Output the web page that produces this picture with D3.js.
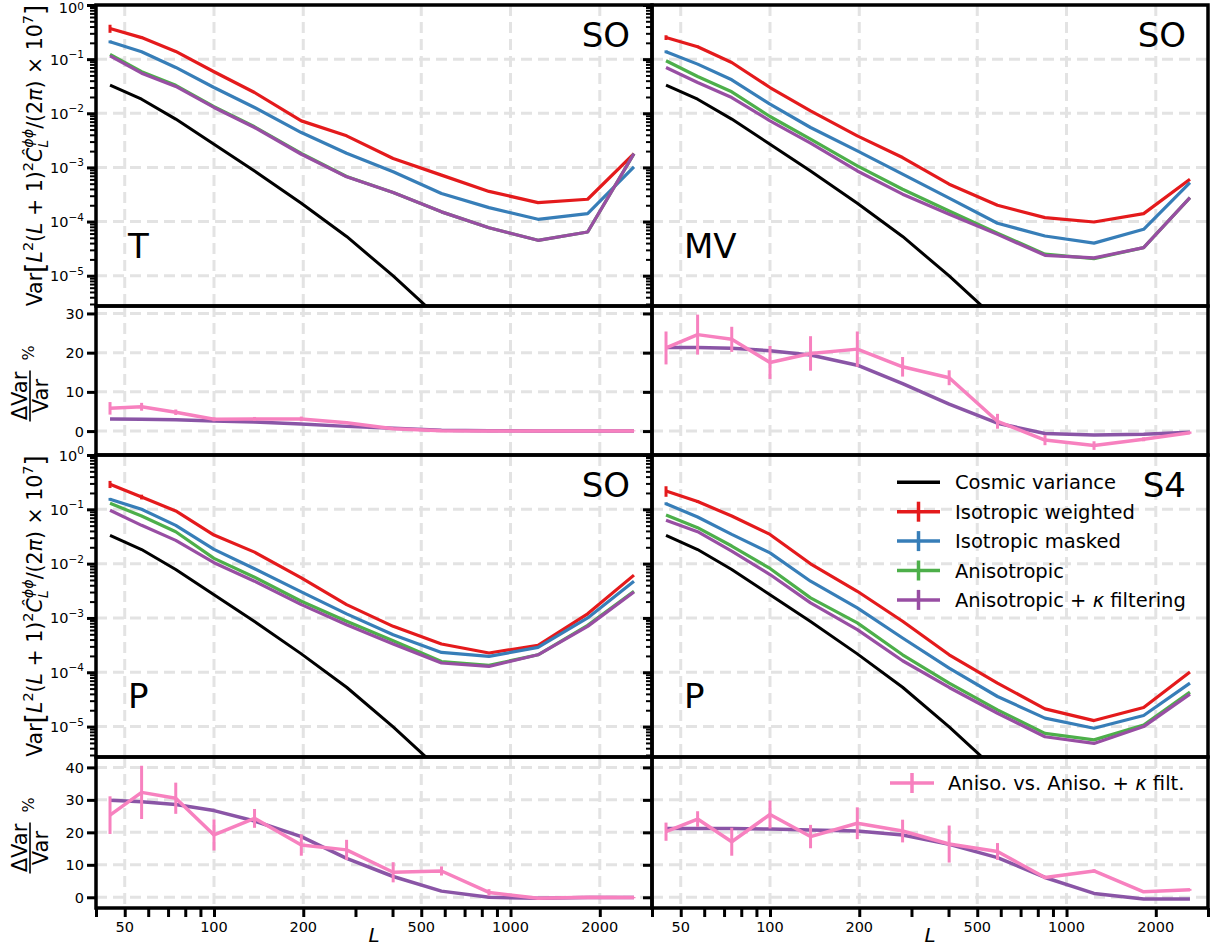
<!DOCTYPE html>
<html>
<head>
<meta charset="utf-8">
<script src="https://cdn.jsdelivr.net/npm/d3@7"></script>
<style>
    body { margin: 0; background: #fff; }
</style>
</head>
<body>
<script>

// ----- DATA ------------------------------------------------------------
const L_BINS = [44.6, 57, 74.3, 100, 137, 197, 280, 402, 585, 846, 1238, 1820, 2608];

const COSMIC_VARIANCE = [0.0330, 0.0182, 0.0078, 0.00268, 8.6e-4, 2.18e-4, 5.3e-5, 9.9e-6, 1.5e-6, 2.2e-7, 3e-8, 4e-9, 6e-10];

// T, SO
const T_SO_ISO_WEIGHTED = [0.369, 0.25, 0.139, 0.0584, 0.0242, 0.00724, 0.00383, 0.00146, 7.2e-4, 3.6e-4, 2.24e-4, 2.58e-4, 1.8e-3];
const T_SO_ISO_MASKED   = [0.209, 0.137, 0.0702, 0.0299, 0.0128, 0.0044, 0.00183, 8.3e-4, 3.3e-4, 1.81e-4, 1.1e-4, 1.4e-4, 1.02e-3];
const T_SO_ANISO        = [0.122, 0.0587, 0.0329, 0.0132, 0.00563, 0.00181, 6.8e-4, 3.45e-4, 1.51e-4, 7.7e-5, 4.5e-5, 6.4e-5, 1.8e-3];
const T_SO_ANISO_KAPPA  = [0.115, 0.0551, 0.0313, 0.0128, 0.00546, 0.00175, 6.7e-4, 3.43e-4, 1.51e-4, 7.7e-5, 4.5e-5, 6.4e-5, 1.8e-3];

// MV, SO
const MV_SO_ISO_WEIGHTED = [0.251, 0.169, 0.0868, 0.0299, 0.0111, 0.00383, 0.00152, 4.9e-4, 2.0e-4, 1.18e-4, 9.8e-5, 1.4e-4, 6.05e-4];
const MV_SO_ISO_MASKED   = [0.137, 0.0809, 0.0415, 0.0147, 0.00546, 0.00202, 7.5e-4, 2.7e-4, 9.3e-5, 5.4e-5, 4.0e-5, 7.2e-5, 5.25e-4];
const MV_SO_ANISO        = [0.0932, 0.0479, 0.0249, 0.00871, 0.00332, 0.00107, 3.95e-4, 1.57e-4, 6.1e-5, 2.5e-5, 2.07e-5, 3.3e-5, 2.77e-4];
const MV_SO_ANISO_KAPPA  = [0.0702, 0.0371, 0.0195, 0.00724, 0.0028, 8.6e-4, 3.2e-4, 1.36e-4, 5.8e-5, 2.38e-5, 2.13e-5, 3.3e-5, 2.77e-4];

// P, SO
const P_SO_ISO_WEIGHTED = [0.29, 0.169, 0.0932, 0.0336, 0.0163, 0.00547, 0.00176, 7.0e-4, 3.31e-4, 2.26e-4, 3.13e-4, 1.19e-3, 6.14e-3];
const P_SO_ISO_MASKED   = [0.153, 0.1, 0.0507, 0.0183, 0.00804, 0.00302, 1.19e-3, 4.9e-4, 2.32e-4, 1.96e-4, 2.87e-4, 1.0e-3, 4.75e-3];
const P_SO_ANISO        = [0.129, 0.0753, 0.0387, 0.0125, 0.00563, 0.00203, 8.7e-4, 3.8e-4, 1.58e-4, 1.34e-4, 2.1e-4, 7.3e-4, 3.1e-3];
const P_SO_ANISO_KAPPA  = [0.0959, 0.0507, 0.0268, 0.0104, 0.00475, 0.00176, 7.5e-4, 3.3e-4, 1.48e-4, 1.28e-4, 2.1e-4, 7.0e-4, 3.0e-3];

// P, S4
const P_S4_ISO_WEIGHTED = [0.218, 0.139, 0.0753, 0.0345, 0.00993, 0.0031, 8.7e-4, 2.1e-4, 6.3e-5, 2.12e-5, 1.29e-5, 2.24e-5, 1.01e-4];
const P_S4_ISO_MASKED   = [0.127, 0.0721, 0.0345, 0.0158, 0.00475, 0.00153, 4.27e-4, 1.19e-4, 3.58e-5, 1.43e-5, 9.3e-6, 1.6e-5, 6.3e-5];
const P_S4_ANISO        = [0.0786, 0.0459, 0.0211, 0.00814, 0.00234, 8.1e-4, 2.1e-4, 6.3e-5, 2.03e-5, 7.5e-6, 5.7e-6, 1.07e-5, 4.3e-5];
const P_S4_ANISO_KAPPA  = [0.0626, 0.0387, 0.017, 0.0063, 0.00189, 6.1e-4, 1.63e-4, 5.25e-5, 1.76e-5, 6.5e-6, 4.9e-6, 1.0e-5, 3.95e-5];

// relative error bars on the isotropic curves
const T_SO_ERR_WEIGHTED  = [0.17, 0.05, 0.02, 0, 0, 0, 0, 0, 0, 0, 0, 0, 0];
const MV_SO_ERR_WEIGHTED = [0.10, 0.05, 0.02, 0, 0, 0, 0, 0, 0, 0, 0, 0, 0];
const P_SO_ERR_WEIGHTED  = [0.15, 0.10, 0.03, 0, 0, 0, 0, 0, 0, 0, 0, 0, 0];
const P_S4_ERR_WEIGHTED  = [0.22, 0.06, 0.03, 0, 0, 0, 0, 0, 0, 0, 0, 0, 0];
const ERR_MASKED         = [0.06, 0.03, 0.01, 0, 0, 0, 0, 0, 0, 0, 0, 0, 0];

// Delta Var / Var (%)
const T_SO_DELTA       = [5.8, 6.2, 4.8, 3.0, 3.1, 3.1, 2.1, 0.6, 0.1, 0, 0, 0, 0.05];
const T_SO_DELTA_ERR   = [1.6, 1.0, 0.7, 0.5, 0.5, 0.6, 0.3, 0.2, 0.1, 0.1, 0.1, 0.1, 0.1];
const T_SO_DELTA_THEORY = [3.1, 3.0, 2.9, 2.6, 2.3, 1.8, 1.2, 0.7, 0.2, 0.1, 0.05, 0, 0];

const MV_SO_DELTA       = [21.2, 24.6, 23.4, 17.5, 19.8, 20.9, 16.4, 13.6, 2.5, -2.3, -3.7, -2.1, -0.4];
const MV_SO_DELTA_ERR   = [4.2, 5.1, 3.2, 4.2, 4.4, 4.5, 2.5, 1.9, 1.9, 1.3, 1.1, 0.5, 0.3];
const MV_SO_DELTA_THEORY = [21.3, 21.3, 21.1, 20.5, 19.4, 16.8, 12.1, 6.9, 2.0, -0.6, -1.0, -0.8, -0.3];

const P_SO_DELTA       = [25.3, 32.3, 30.5, 19.2, 24.3, 16.1, 14.6, 7.7, 8.1, 1.5, -0.3, 0.0, -0.1];
const P_SO_DELTA_ERR   = [5.8, 8.2, 4.8, 4.8, 2.9, 3.3, 3.1, 3.1, 1.4, 1.0, 0.4, 0.3, 0.2];
const P_SO_DELTA_THEORY = [29.9, 29.4, 28.6, 26.7, 23.5, 18.7, 12.0, 6.4, 1.9, 0, -0.3, -0.1, -0.1];

const P_S4_DELTA       = [20.2, 24.1, 17.1, 25.5, 18.7, 22.8, 20.4, 16.4, 14.1, 6.1, 8.1, 1.7, 2.3];
const P_S4_DELTA_ERR   = [2.8, 2.4, 4.3, 4.3, 3.6, 4.9, 3.5, 5.7, 2.6, 0.5, 0.5, 0.3, 0.3];
const P_S4_DELTA_THEORY = [21.2, 21.2, 21.2, 21.0, 20.7, 20.4, 19.2, 16.3, 12.2, 6.1, 1.2, -0.5, -0.5];

const X_TICK_LABELS = [50, 100, 200, 500, 1000, 2000];
const X_MINOR_TICKS = [40, 60, 70, 80, 90, 300, 400, 600, 700, 800, 900, 3000];
const LOG_Y_TICKS = [1, 1e-1, 1e-2, 1e-3, 1e-4, 1e-5];
const LOG_Y_EXPONENTS = ["0", "\u22121", "\u22122", "\u22123", "\u22124", "\u22125"];
const DELTA_TICKS_TOP = [0, 10, 20, 30];
const DELTA_TICKS_BOTTOM = [0, 10, 20, 30, 40];

const SERIES_NAMES = ["Cosmic variance", "Isotropic weighted", "Isotropic masked", "Anisotropic", "Anisotropic + \u03ba filtering"];
const DELTA_NAME = "Aniso. vs. Aniso. + \u03ba filt.";

// ----- STYLE -----------------------------------------------------------
const COLORS = {
    cv: "#000000",
    weighted: "#e41a1c",
    masked: "#377eb8",
    aniso: "#4daf4a",
    kappa: "#984ea3",
    theory: "#8a55a6",
    delta: "#f781bf",
    grid: "#e3e3e3"
};

const COLS = [ { x0: 96, x1: 652 }, { x0: 652, x1: 1208 } ];
const BIG_ROWS = [ { top: 5, bottom: 306 }, { top: 455, bottom: 757 } ];
const SMALL_ROWS = [ { top: 306, bottom: 455, domain: [-6.1, 31.9] }, { top: 757, bottom: 908, domain: [-3.3, 43.2] } ];
const LOG_Y_DOMAIN = [Math.pow(10, -5.56), 1];

const FONT = "'DejaVu Sans', sans-serif";

let svg = d3.select("body").append("svg")
    .attr("width", 1218)
    .attr("height", 947)
    .style("font-family", FONT);

let clipCount = 0;

// ----- HELPERS ---------------------------------------------------------
function _clip( x0, top, x1, bottom )
{
    let id = "clip" + ( clipCount++ );
    svg.append("clipPath")
        .attr("id", id)
        .append("rect")
        .attr("x", x0)
        .attr("y", top)
        .attr("width", x1 - x0)
        .attr("height", bottom - top);
    return "url(#" + id + ")";
}

function _grid( g, x, y, yTicks, col, top, bottom )
{
    let grid = g.append("g")
        .attr("stroke", COLORS.grid)
        .attr("stroke-width", 3)
        .attr("stroke-dasharray", "11,6");

    grid.selectAll(".vgrid")
        .data(X_TICK_LABELS)
        .enter()
            .append("line")
            .attr("x1", d => x(d))
            .attr("x2", d => x(d))
            .attr("y1", top)
            .attr("y2", bottom);

    grid.selectAll(".hgrid")
        .data(yTicks)
        .enter()
            .append("line")
            .attr("x1", col.x0)
            .attr("x2", col.x1)
            .attr("y1", d => y(d))
            .attr("y2", d => y(d));
}

function _styleAxis( g, width )
{
    g.select(".domain").remove();
    g.selectAll(".tick line")
        .attr("stroke", "#000")
        .attr("stroke-width", width);
}

function _errLine( g, x, y, vals, lo, hi, colour )
{
    g.selectAll(null)
        .data(vals)
        .enter()
            .append("line")
            .filter((d, i) => hi[i] !== lo[i])
            .attr("x1", (d, i) => x(L_BINS[i]))
            .attr("x2", (d, i) => x(L_BINS[i]))
            .attr("y1", (d, i) => y(lo[i]))
            .attr("y2", (d, i) => y(hi[i]))
            .attr("stroke", colour)
            .attr("stroke-width", 3);
}

function _path( g, x, y, vals, colour, width )
{
    let line = d3.line()
        .x((d, i) => x(L_BINS[i]))
        .y(d => y(d));

    g.append("path")
        .datum(vals)
        .attr("d", line)
        .attr("fill", "none")
        .attr("stroke", colour)
        .attr("stroke-width", width)
        .attr("stroke-linejoin", "round");
}

// builds mathtext-like tspans (italics, super- and subscripts)
function _mathText( text, parts, size )
{
    let shift = 0;
    let supWidth = 0;
    let pendingDx = 0;

    parts.forEach(p => {
        let fs = ( p.sup || p.sub ) ? size * 0.7 : ( p.big ? size * 1.3 : size );
        let target = p.sup ? -size * 0.45 : ( p.sub ? size * 0.28 : ( p.big ? size * 0.08 : 0 ) );

        let span = text.append("tspan")
            .attr("font-size", fs)
            .attr("font-style", p.i ? "italic" : "normal")
            .attr("dy", target - shift)
            .text(p.t);

        let w = span.node().getComputedTextLength();

        if( p.back )
        {
            // stack the subscript under the previous superscript
            span.attr("dx", -supWidth);
            pendingDx = Math.max(0, supWidth - w);
        }
        else
        {
            if( pendingDx > 0 ) span.attr("dx", pendingDx);
            pendingDx = 0;
        }

        shift = target;
        supWidth = w;
    });
}

// ----- PANELS ----------------------------------------------------------
function _drawBigPanel( col, row, series, errW, errM, tag, est, showLabels )
{
    let x = d3.scaleLog().domain([40, 3000]).range([col.x0, col.x1]);
    let y = d3.scaleLog().domain(LOG_Y_DOMAIN).range([row.bottom, row.top]);

    let g = svg.append("g");

    _grid( g, x, y, LOG_Y_TICKS.slice(1), col, row.top, row.bottom );

    let data = g.append("g").attr("clip-path", _clip( col.x0, row.top, col.x1, row.bottom ));

    _path( data, x, y, COSMIC_VARIANCE, COLORS.cv, 3 );
    _path( data, x, y, series[0], COLORS.weighted, 3.2 );
    _errLine( data, x, y, series[0], series[0].map((d, i) => d * (1 - errW[i])), series[0].map((d, i) => d * (1 + errW[i])), COLORS.weighted );
    _path( data, x, y, series[1], COLORS.masked, 3.2 );
    _errLine( data, x, y, series[1], series[1].map((d, i) => d * (1 - errM[i])), series[1].map((d, i) => d * (1 + errM[i])), COLORS.masked );
    _path( data, x, y, series[2], COLORS.aniso, 3.2 );
    _path( data, x, y, series[3], COLORS.kappa, 3.2 );

    // y ticks (major + log minor)
    let minors = [];
    for( let k = -6; k < 0; k++ )
    {
        for( let m = 2; m < 10; m++ )
        {
            let v = m * Math.pow(10, k);
            if( v > LOG_Y_DOMAIN[0] && v < 1 ) minors.push(v);
        }
    }

    let axMinor = g.append("g")
        .attr("transform", "translate(" + col.x0 + ",0)")
        .call(d3.axisLeft(y).tickValues(minors).tickSize(6).tickFormat(""));
    _styleAxis( axMinor, 2 );

    let axMajor = g.append("g")
        .attr("transform", "translate(" + col.x0 + ",0)")
        .call(d3.axisLeft(y).tickValues(LOG_Y_TICKS).tickSize(9).tickFormat(""));
    _styleAxis( axMajor, 3 );

    if( showLabels )
    {
        LOG_Y_TICKS.forEach((v, i) => {
            // keep the topmost label inside the picture
            let atTop = ( i === 0 && row.top < 10 );
            let t = g.append("text")
                .attr("x", col.x0 - 12)
                .attr("y", atTop ? 13 : y(v) + 5.5)
                .attr("text-anchor", "end")
                .attr("font-size", 14.5);
            t.append("tspan").text("10");
            t.append("tspan")
                .attr("font-size", 10.5)
                .attr("dy", atTop ? -3.5 : -6.5)
                .text(LOG_Y_EXPONENTS[i]);
        });
    }

    g.append("text")
        .attr("x", col.x1 - 22)
        .attr("y", row.top + 42)
        .attr("text-anchor", "end")
        .attr("font-size", 34)
        .text(tag);

    g.append("text")
        .attr("x", col.x0 + 32)
        .attr("y", row.top + 253)
        .attr("font-size", 34)
        .text(est);

    return g;
}

function _drawSmallPanel( col, row, vals, errs, theory, ticks, showLabels )
{
    let x = d3.scaleLog().domain([40, 3000]).range([col.x0, col.x1]);
    let y = d3.scaleLinear().domain(row.domain).range([row.bottom, row.top]);

    let g = svg.append("g");

    _grid( g, x, y, ticks, col, row.top, row.bottom );

    let data = g.append("g").attr("clip-path", _clip( col.x0, row.top, col.x1, row.bottom ));

    _path( data, x, y, theory, COLORS.theory, 3.5 );
    _path( data, x, y, vals, COLORS.delta, 3.5 );
    _errLine( data, x, y, vals, vals.map((d, i) => d - errs[i]), vals.map((d, i) => d + errs[i]), COLORS.delta );

    let ax = g.append("g")
        .attr("transform", "translate(" + col.x0 + ",0)")
        .call(d3.axisLeft(y).tickValues(ticks).tickSize(9).tickFormat(""));
    _styleAxis( ax, 3 );

    if( showLabels )
    {
        g.selectAll(null)
            .data(ticks)
            .enter()
                .append("text")
                .attr("x", col.x0 - 12)
                .attr("y", d => y(d) + 5.5)
                .attr("text-anchor", "end")
                .attr("font-size", 14.5)
                .text(d => d);
    }
    return g;
}

function _spines( col, top, bottom )
{
    svg.append("rect")
        .attr("x", col.x0)
        .attr("y", top)
        .attr("width", col.x1 - col.x0)
        .attr("height", bottom - top)
        .attr("fill", "none")
        .attr("stroke", "#000")
        .attr("stroke-width", 3.5);
}

// ----- DRAW ------------------------------------------------------------
_drawBigPanel( COLS[0], BIG_ROWS[0], [T_SO_ISO_WEIGHTED, T_SO_ISO_MASKED, T_SO_ANISO, T_SO_ANISO_KAPPA], T_SO_ERR_WEIGHTED, ERR_MASKED, "SO", "T", true );
_drawBigPanel( COLS[1], BIG_ROWS[0], [MV_SO_ISO_WEIGHTED, MV_SO_ISO_MASKED, MV_SO_ANISO, MV_SO_ANISO_KAPPA], MV_SO_ERR_WEIGHTED, ERR_MASKED, "SO", "MV", false );
_drawBigPanel( COLS[0], BIG_ROWS[1], [P_SO_ISO_WEIGHTED, P_SO_ISO_MASKED, P_SO_ANISO, P_SO_ANISO_KAPPA], P_SO_ERR_WEIGHTED, ERR_MASKED, "SO", "P", true );
let s4 = _drawBigPanel( COLS[1], BIG_ROWS[1], [P_S4_ISO_WEIGHTED, P_S4_ISO_MASKED, P_S4_ANISO, P_S4_ANISO_KAPPA], P_S4_ERR_WEIGHTED, ERR_MASKED, "S4", "P", false );

_drawSmallPanel( COLS[0], SMALL_ROWS[0], T_SO_DELTA, T_SO_DELTA_ERR, T_SO_DELTA_THEORY, DELTA_TICKS_TOP, true );
_drawSmallPanel( COLS[1], SMALL_ROWS[0], MV_SO_DELTA, MV_SO_DELTA_ERR, MV_SO_DELTA_THEORY, DELTA_TICKS_TOP, false );
_drawSmallPanel( COLS[0], SMALL_ROWS[1], P_SO_DELTA, P_SO_DELTA_ERR, P_SO_DELTA_THEORY, DELTA_TICKS_BOTTOM, true );
let s4delta = _drawSmallPanel( COLS[1], SMALL_ROWS[1], P_S4_DELTA, P_S4_DELTA_ERR, P_S4_DELTA_THEORY, DELTA_TICKS_BOTTOM, false );

// spines on top of everything
COLS.forEach(col => {
    BIG_ROWS.forEach(r => _spines( col, r.top, r.bottom ));
    SMALL_ROWS.forEach(r => _spines( col, r.top, r.bottom ));
});

// x axes along the bottom
COLS.forEach(col => {
    let x = d3.scaleLog().domain([40, 3000]).range([col.x0, col.x1]);
    let axis = svg.append("g")
        .attr("transform", "translate(0," + SMALL_ROWS[1].bottom + ")")
        .call(d3.axisBottom(x).tickValues(X_TICK_LABELS.concat(X_MINOR_TICKS)).tickSize(9).tickFormat(""));
    _styleAxis( axis, 3 );

    svg.selectAll(null)
        .data(X_TICK_LABELS)
        .enter()
            .append("text")
            .attr("x", d => x(d))
            .attr("y", 932)
            .attr("text-anchor", "middle")
            .attr("font-size", 14.5)
            .text(d => d);

    svg.append("text")
        .attr("x", (col.x0 + col.x1) / 2)
        .attr("y", 942)
        .attr("text-anchor", "middle")
        .attr("font-size", 20)
        .attr("font-style", "italic")
        .text("L");
});

// y labels of the variance panels
BIG_ROWS.forEach(r => {
    let t = svg.append("text")
        .attr("transform", "translate(42," + ((r.top + r.bottom) / 2) + ") rotate(-90)")
        .attr("text-anchor", "middle");

    _mathText( t, [
        { t: "Var" },
        { t: "[", big: true },
        { t: "L", i: true },
        { t: "2", sup: true },
        { t: "(" },
        { t: "L", i: true },
        { t: " + 1)" },
        { t: "2", sup: true },
        { t: "\u0108", i: true },
        { t: "\u03d5\u03d5", i: true, sup: true },
        { t: "L", i: true, sub: true, back: true },
        { t: "/(2" },
        { t: "\u03c0", i: true },
        { t: ") \u00d7 10" },
        { t: "7", sup: true },
        { t: "]", big: true }
    ], 20.5 );
});

// y labels of the difference panels
SMALL_ROWS.forEach(r => {
    let g = svg.append("g")
        .attr("transform", "translate(29," + ((r.top + r.bottom) / 2) + ") rotate(-90)");

    g.append("text")
        .attr("x", -15.5)
        .attr("y", -2.5)
        .attr("text-anchor", "middle")
        .attr("font-size", 21)
        .text("\u0394Var");

    g.append("line")
        .attr("x1", -41)
        .attr("x2", 10)
        .attr("y1", 1)
        .attr("y2", 1)
        .attr("stroke", "#000")
        .attr("stroke-width", 1.6);

    g.append("text")
        .attr("x", -15.5)
        .attr("y", 18.5)
        .attr("text-anchor", "middle")
        .attr("font-size", 21)
        .text("Var");

    g.append("text")
        .attr("x", 20)
        .attr("y", 5)
        .attr("font-size", 16)
        .text("%");
});

// legend (variance panels)
const legendColours = [COLORS.cv, COLORS.weighted, COLORS.masked, COLORS.aniso, COLORS.kappa];
let legend = s4.append("g");

SERIES_NAMES.forEach((name, i) => {
    let yy = 482.3 + i * 29.4;
    legend.append("line")
        .attr("x1", 897).attr("x2", 940)
        .attr("y1", yy).attr("y2", yy)
        .attr("stroke", legendColours[i])
        .attr("stroke-width", 3.5);

    if( i > 0 )
    {
        legend.append("line")
            .attr("x1", 918.5).attr("x2", 918.5)
            .attr("y1", yy - 10).attr("y2", yy + 10)
            .attr("stroke", legendColours[i])
            .attr("stroke-width", 3.5);
    }

    let t = legend.append("text")
        .attr("x", 955)
        .attr("y", yy + 7)
        .attr("font-size", 19.5);

    if( i === 4 )
    {
        t.append("tspan").text("Anisotropic + ");
        t.append("tspan").attr("font-style", "italic").text("\u03ba");
        t.append("tspan").text(" filtering");
    }
    else
    {
        t.text(name);
    }
});

// legend (difference panel)
s4delta.append("line")
    .attr("x1", 890).attr("x2", 934)
    .attr("y1", 783).attr("y2", 783)
    .attr("stroke", COLORS.delta)
    .attr("stroke-width", 3.5);

s4delta.append("line")
    .attr("x1", 912).attr("x2", 912)
    .attr("y1", 773).attr("y2", 793)
    .attr("stroke", COLORS.delta)
    .attr("stroke-width", 3.5);

let dt = s4delta.append("text")
    .attr("x", 948)
    .attr("y", 790)
    .attr("font-size", 19.5);
dt.append("tspan").text("Aniso. vs. Aniso. + ");
dt.append("tspan").attr("font-style", "italic").text("\u03ba");
dt.append("tspan").text(" filt.");

</script>
</body>
</html>
